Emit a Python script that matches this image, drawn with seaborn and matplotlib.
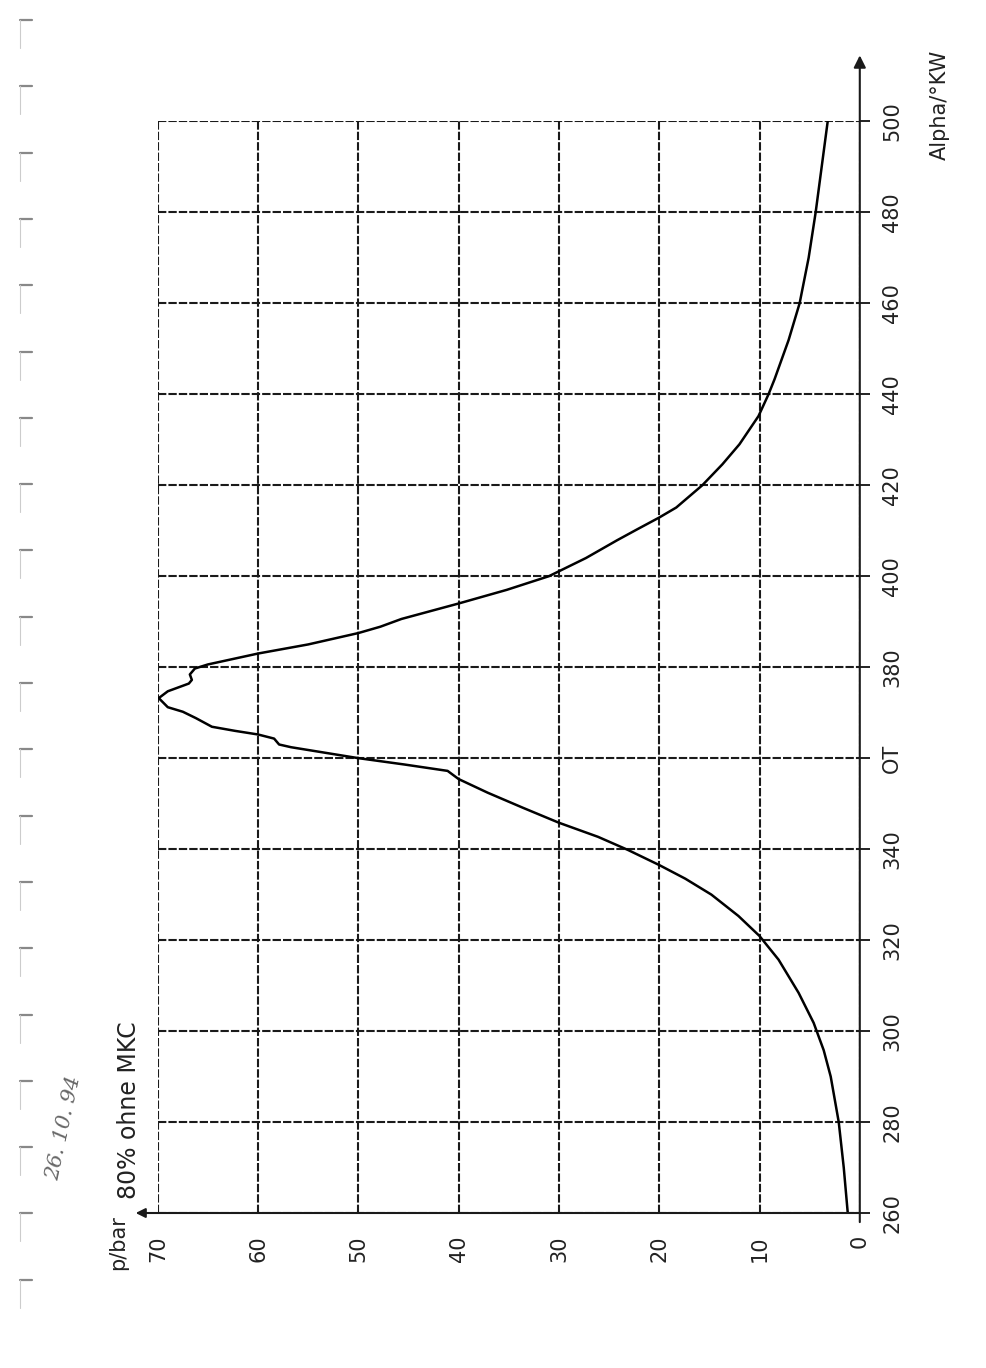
import numpy as np
import seaborn as sns
import matplotlib.pyplot as plt
from matplotlib.lines import Line2D

# Druckverlauf ueber Kurbelwinkel, Alpha in °KW, p in bar
alpha = [260, 270, 280, 290, 295.8, 301.8, 308.4, 315.7, 320.9, 325.3, 330,
         333.5, 336.5, 339.8, 342.7, 345.8, 349.1, 352.4, 355.4, 357.2, 358.6,
         360, 362.4, 363.0, 364.3, 365.2, 366.0, 366.9, 368.8, 370.2, 371.2,
         373.2, 374.7, 376.4, 377.2, 378.4, 379.7, 380.6, 383, 385, 387.5,
         388.9, 390.6, 394, 397, 400, 404, 407.9, 410.3, 412.9, 415.1, 420,
         424.6, 429, 435.2, 440, 443.3, 451.9, 460, 470, 480, 490, 500]
pressure = [1.2, 1.6, 2.1, 2.9, 3.6, 4.6, 6.1, 8.1, 10.0, 12.1, 14.8,
            17.4, 20.0, 23.1, 26.1, 30.0, 33.6, 37.1, 40.0, 41.1, 45.4,
            50.0, 56.7, 57.9, 58.4, 60.0, 62.3, 64.6, 66.2, 67.5, 69.0,
            69.9, 69.0, 66.9, 66.6, 66.8, 66.3, 65.0, 60.0, 55.0, 50.0,
            47.8, 45.7, 40.0, 35.2, 31.0, 27.3, 24.2, 22.2, 20.0, 18.3, 15.7,
            13.7, 12.0, 10.1, 9.1, 8.5, 7.1, 6.0, 5.1, 4.4, 3.8, 3.2]

p_ticks = [70, 60, 50, 40, 30, 20, 10, 0]
alpha_ticks = [260, 280, 300, 320, 340, 360, 380, 400, 420, 440, 460, 480, 500]
alpha_labels = ['260', '280', '300', '320', '340', 'OT', '380', '400', '420',
                '440', '460', '480', '500']

sns.set_style('white')
plt.rcParams['font.family'] = ['DejaVu Sans']

fig = plt.figure(figsize=(9.86, 13.68), dpi=100)
ax = fig.add_axes([0.160, 0.1133, 0.712, 0.798])

# Blatt ist um 90° gedreht: p waagerecht (70 links, 0 rechts), Alpha senkrecht
sns.lineplot(x=pressure, y=alpha, orient='y', sort=False, estimator=None,
             color='black', linewidth=1.8, ax=ax)

ax.set_xlim(70, 0)
ax.set_ylim(260, 500)
ax.set_xticks(p_ticks)
ax.set_xticklabels([str(t) for t in p_ticks], rotation=90, fontsize=15,
                   color='#222222')
ax.set_yticks(alpha_ticks)
ax.set_yticklabels(alpha_labels, rotation=90, fontsize=15, color='#222222',
                   va='center')
ax.yaxis.tick_right()
ax.tick_params(axis='both', length=7, width=1.4, color='#222222', pad=9)
ax.grid(True, color='#1a1a1a', linewidth=1.5, linestyle=(0, (4, 1)))
for s in ax.spines.values():
    s.set_visible(False)

# Achsen mit Pfeilen
ax.annotate('', xy=(0, 514.5), xytext=(0, 258), xycoords='data',
            arrowprops=dict(arrowstyle='-|>', color='#1a1a1a', lw=1.5,
                            mutation_scale=18, shrinkA=0, shrinkB=0),
            annotation_clip=False)
ax.annotate('', xy=(72.2, 260), xytext=(0, 260), xycoords='data',
            arrowprops=dict(arrowstyle='-|>', color='#1a1a1a', lw=1.5,
                            mutation_scale=14, shrinkA=0, shrinkB=0),
            annotation_clip=False)

# Beschriftungen
fig.text(118 / 986, 1 - 1243 / 1368, 'p/bar', rotation=90, fontsize=15,
         ha='center', va='center', color='#222222')
fig.text(129 / 986, 1 - 1110 / 1368, '80% ohne MKC', rotation=90, fontsize=17,
         ha='center', va='center', color='#222222')
fig.text(940 / 986, 1 - 105 / 1368, 'Alpha/°KW', rotation=90, fontsize=15,
         ha='center', va='center', color='#222222')
fig.text(64 / 986, 1 - 1128 / 1368, '26. 10. 94', rotation=78, fontsize=15,
         ha='center', va='center', color='#666666', style='italic',
         family=['DejaVu Serif'])

# Lochrand-Markierungen des Scans
for yy in np.arange(20, 1345, 66.3):
    y0 = 1 - yy / 1368
    fig.add_artist(Line2D([20 / 986, 32 / 986], [y0, y0], color='#888888', lw=1.6))
    fig.add_artist(Line2D([20 / 986, 20 / 986], [y0, y0 - 28 / 1368],
                          color='#cccccc', lw=0.8))

fig.savefig('out.png', dpi=100, facecolor='white')
